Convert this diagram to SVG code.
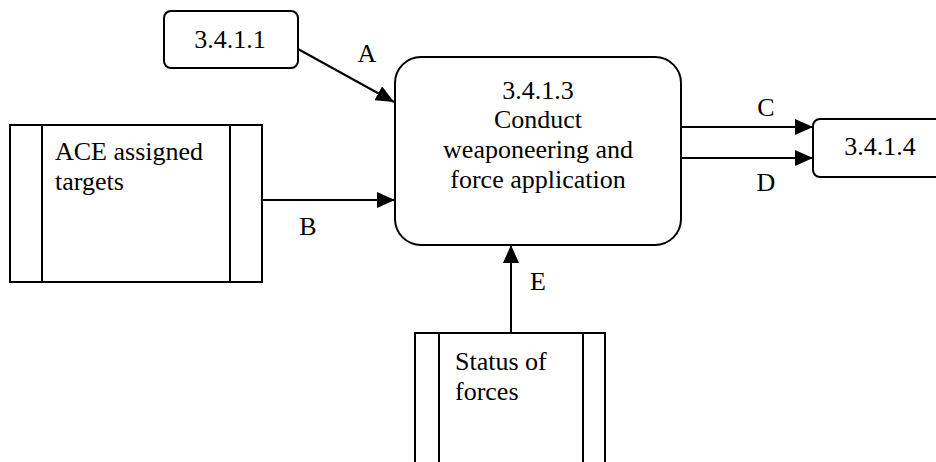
<svg xmlns="http://www.w3.org/2000/svg" width="936" height="462" viewBox="0 0 936 462">
<style>
.box{fill:#fff;stroke:#000;stroke-width:2}
.ln{stroke:#000;stroke-width:2;fill:none}
text{font-family:"Liberation Serif","Times New Roman",serif;font-size:26px;fill:#000}
.c{text-anchor:middle}
</style>
<defs>
<marker id="ah" markerUnits="userSpaceOnUse" markerWidth="20" markerHeight="16" refX="18" refY="8" orient="auto">
<path d="M0,0 L18,8 L0,16 Z" fill="#000"/>
</marker>
</defs>
<rect width="936" height="462" fill="#fff"/>
<g id="connectors">
<line class="ln" x1="298" y1="49" x2="394" y2="102" marker-end="url(#ah)"/>
<text class="c" x="367" y="62">A</text>
<line class="ln" x1="262" y1="200" x2="395" y2="200" marker-end="url(#ah)"/>
<text class="c" x="308" y="235">B</text>
<line class="ln" x1="681" y1="127" x2="813" y2="127" marker-end="url(#ah)"/>
<text class="c" x="766" y="116">C</text>
<line class="ln" x1="681" y1="158" x2="813" y2="158" marker-end="url(#ah)"/>
<text class="c" x="766" y="191">D</text>
<line class="ln" x1="511" y1="333" x2="511" y2="245" marker-end="url(#ah)"/>
<text class="c" x="538" y="290">E</text>
</g>
<g id="n3411">
<rect class="box" x="164" y="11" width="134" height="57" rx="7"/>
<text class="c" x="230" y="48">3.4.1.1</text>
</g>
<g id="n3413">
<rect class="box" x="395" y="57" width="286" height="188" rx="26"/>
<text class="c" x="538" y="99">3.4.1.3</text>
<text class="c" x="538" y="128">Conduct</text>
<text class="c" x="538" y="158">weaponeering and</text>
<text class="c" x="538" y="188">force application</text>
</g>
<g id="n3414">
<rect class="box" x="813" y="119" width="140" height="58" rx="7"/>
<text class="c" x="880" y="155">3.4.1.4</text>
</g>
<g id="ace">
<rect class="box" x="10" y="125" width="252" height="157"/>
<line class="ln" x1="42" y1="125" x2="42" y2="282"/>
<line class="ln" x1="230" y1="125" x2="230" y2="282"/>
<text x="55" y="160">ACE assigned</text>
<text x="55" y="190">targets</text>
</g>
<g id="status">
<rect class="box" x="415" y="333" width="190" height="140"/>
<line class="ln" x1="439" y1="333" x2="439" y2="473"/>
<line class="ln" x1="583" y1="333" x2="583" y2="473"/>
<text x="455" y="370">Status of</text>
<text x="455" y="400">forces</text>
</g>
</svg>
